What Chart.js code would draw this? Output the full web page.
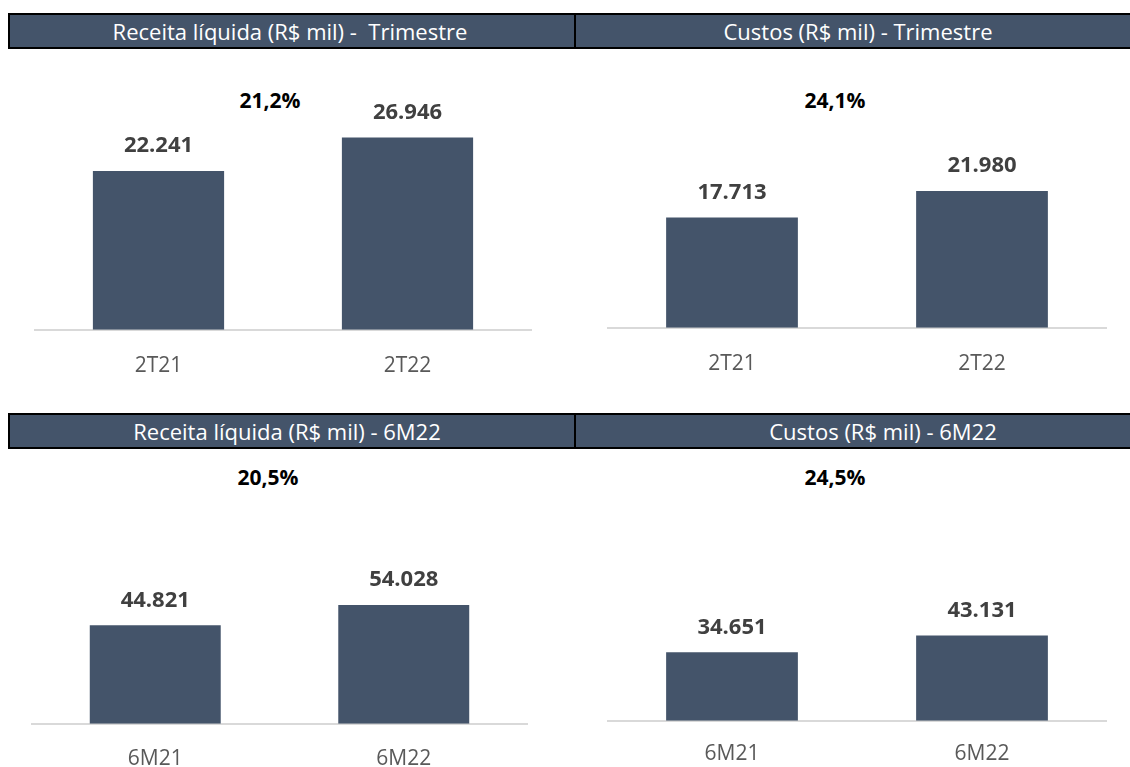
<!DOCTYPE html>
<html>
<head>
<meta charset="utf-8">
<script src="https://cdn.jsdelivr.net/npm/chart.js@4.4.3/dist/chart.umd.min.js"></script>
<style>
    html, body { margin: 0; padding: 0; background: #fff; }
    body { width: 1130px; height: 767px; position: relative; overflow: hidden; font-family: 'Open Sans', sans-serif; }
    .hdr { position: absolute; height: 36px; background: #44546A; border: 2px solid #000; box-sizing: border-box; }
    .hdr-text { position: absolute; color: #fff; font-size: 22px; line-height: 36px; white-space: pre; transform: translateX(-50%); }
    .pct { position: absolute; font-weight: 700; font-size: 21px; color: #000; transform: translate(-50%, -50%); }
    .box { position: absolute; }
</style>
</head>
<body>
<script>
const quarterLabels = ['2T21', '2T22'];
const semesterLabels = ['6M21', '6M22'];
const revenueQuarter = [22241, 26946];
const costQuarter = [17713, 21980];
const revenueSemester = [44821, 54028];
const costSemester = [34651, 43131];
const growthLabels = ['21,2%', '24,1%', '20,5%', '24,5%'];
const panelTitles = [
    'Receita líquida (R$ mil) -  Trimestre',
    'Custos (R$ mil) - Trimestre',
    'Receita líquida (R$ mil) - 6M22',
    'Custos (R$ mil) - 6M22'
];

const barColor = '#44546A';

// header bars
const headers = [
    { left: 8, top: 13, width: 568, textX: 290 },
    { left: 574, top: 13, width: 620, textX: 858 },
    { left: 8, top: 413, width: 568, textX: 287 },
    { left: 574, top: 413, width: 620, textX: 883 }
];
headers.forEach((h, i) => {
    const d = document.createElement('div');
    d.className = 'hdr';
    Object.assign(d.style, { left: h.left + 'px', top: h.top + 'px', width: h.width + 'px' });
    document.body.appendChild(d);
    const t = document.createElement('div');
    t.className = 'hdr-text';
    t.textContent = panelTitles[i];
    Object.assign(t.style, { left: h.textX + 'px', top: (h.top) + 'px' });
    document.body.appendChild(t);
});

// growth labels
const pctPos = [[270, 100], [835, 100], [268, 477], [835, 477]];
pctPos.forEach((p, i) => {
    const d = document.createElement('div');
    d.className = 'pct';
    d.textContent = growthLabels[i];
    d.style.left = p[0] + 'px';
    d.style.top = p[1] + 'px';
    document.body.appendChild(d);
});

const fmt = v => String(v).replace(/\B(?=(\d{3})+(?!\d))/g, '.');

const valueLabels = {
    id: 'valueLabels',
    afterDatasetsDraw(chart) {
        const ctx = chart.ctx;
        const meta = chart.getDatasetMeta(0);
        ctx.save();
        ctx.font = "700 22px 'Open Sans'";
        ctx.fillStyle = '#404040';
        ctx.textAlign = 'center';
        ctx.textBaseline = 'middle';
        meta.data.forEach((bar, i) => {
            ctx.fillText(fmt(chart.data.datasets[0].data[i]), bar.x, bar.y - 25);
        });
        ctx.restore();
    }
};

function makeChart(box, labels, values, yMax, tickPad) {
    const wrap = document.createElement('div');
    wrap.className = 'box';
    Object.assign(wrap.style, {
        left: box.left + 'px', top: box.top + 'px',
        width: box.width + 'px', height: box.height + 'px'
    });
    const canvas = document.createElement('canvas');
    wrap.appendChild(canvas);
    document.body.appendChild(wrap);

    new Chart(canvas, {
        type: 'bar',
        data: {
            labels: labels,
            datasets: [{
                data: values,
                backgroundColor: barColor,
                borderColor: barColor,
                borderWidth: 0,
                barPercentage: 1,
                categoryPercentage: 0.527
            }]
        },
        options: {
            responsive: true,
            maintainAspectRatio: false,
            animation: false,
            layout: { padding: 0 },
            plugins: { legend: { display: false }, tooltip: { enabled: false } },
            scales: {
                x: {
                    grid: { display: false, drawTicks: false },
                    border: { display: true, color: '#d9d9d9', width: 2 },
                    ticks: {
                        color: '#595959',
                        padding: tickPad,
                        font: { family: 'Open Sans', size: 21, lineHeight: 1.2 }
                    }
                },
                y: { display: false, min: 0, max: yMax }
            }
        },
        plugins: [valueLabels]
    });
}

makeChart({ left: 34, top: 80, width: 498, height: 323 }, quarterLabels, revenueQuarter, 35000, 24);
makeChart({ left: 607, top: 110, width: 500, height: 291 }, quarterLabels, costQuarter, 35000, 24);
makeChart({ left: 31, top: 504, width: 497, height: 291 }, semesterLabels, revenueSemester, 100000, 23);
makeChart({ left: 607, top: 523, width: 500, height: 265 }, semesterLabels, costSemester, 100000, 21);
</script>
</body>
</html>
